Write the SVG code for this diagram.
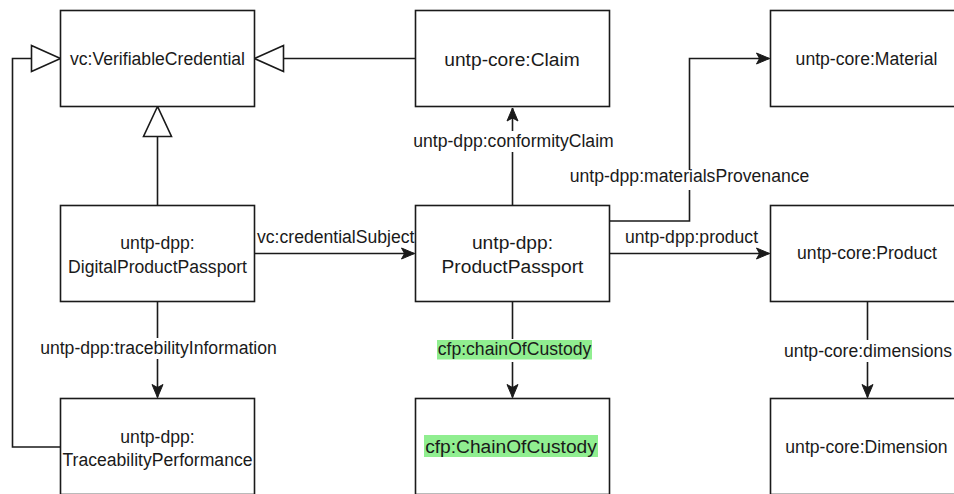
<svg xmlns="http://www.w3.org/2000/svg" width="954" height="494" viewBox="0 0 954 494">
<style>
.box{fill:#fff;stroke:#1a1a1a;stroke-width:1.6}
.ln{fill:none;stroke:#1a1a1a;stroke-width:1.6}
.tri{fill:#fff;stroke:#1a1a1a;stroke-width:1.6}
text{font-family:"Liberation Sans",Arial,Helvetica,sans-serif;fill:#1a1a1a}
.s{font-size:17.6px}
.b{font-size:19.2px}
.c{text-anchor:middle}
.bg{fill:#fff}
.hl{fill:#90ee90}
</style>
<defs>
<marker id="arr" markerUnits="userSpaceOnUse" viewBox="-14 -7 15 14" refX="0" refY="0" markerWidth="15" markerHeight="14" orient="auto">
<path d="M0,0 L-13,-5.5 L-10,0 L-13,5.5 Z" fill="#1a1a1a" stroke="#1a1a1a" stroke-width="1"/>
</marker>
</defs>

<g id="connectors">
<!-- Claim -> VC (generalization) -->
<path class="ln" d="M415.5,58.5 H283.5"/>
<polygon class="tri" points="254.5,58.5 283.5,45.5 283.5,71.5"/>
<!-- DPP -> VC (generalization) -->
<path class="ln" d="M157.5,205.5 V136.5"/>
<polygon class="tri" points="157.5,106.5 143.5,136.5 171.5,136.5"/>
<!-- TP -> VC (generalization) -->
<path class="ln" d="M60.5,447 H12.5 V58.5 H31.5"/>
<polygon class="tri" points="60.5,58.5 31.5,45.5 31.5,71.5"/>
<!-- DPP -> PP -->
<path class="ln" d="M254.5,253.5 H414.5" marker-end="url(#arr)"/>
<text class="s" x="257" y="243">vc:credentialSubject</text>
<!-- PP -> Product -->
<path class="ln" d="M609.5,253.5 H769.5" marker-end="url(#arr)"/>
<text class="s" x="625" y="243">untp-dpp:product</text>
<!-- PP -> Claim -->
<path class="ln" d="M512.5,205.5 V108" marker-end="url(#arr)"/>
<rect class="bg" x="413" y="131" width="201" height="21"/>
<text class="s c" x="513.5" y="147">untp-dpp:conformityClaim</text>
<!-- PP -> Material -->
<path class="ln" d="M609.5,221 H689.5 V58.5 H769.5" marker-end="url(#arr)"/>
<rect class="bg" x="568" y="170" width="242" height="20"/>
<text class="s c" x="689.5" y="182">untp-dpp:materialsProvenance</text>
<!-- DPP -> TP -->
<path class="ln" d="M157.5,302 V397.5" marker-end="url(#arr)"/>
<rect class="bg" x="38" y="338" width="240" height="21"/>
<text class="s c" x="158.5" y="354">untp-dpp:tracebilityInformation</text>
<!-- PP -> CoC -->
<path class="ln" d="M512.5,302 V397.5" marker-end="url(#arr)"/>
<rect class="bg" x="436" y="339" width="157" height="23"/>
<rect class="hl" x="437" y="340" width="155" height="19.5"/>
<text class="s c" x="514.5" y="355">cfp:chainOfCustody</text>
<!-- Product -> Dimension -->
<path class="ln" d="M867.5,302 V397.5" marker-end="url(#arr)"/>
<rect class="bg" x="783" y="340" width="171" height="22"/>
<text class="s c" x="868" y="357">untp-core:dimensions</text>
</g>

<g id="vc">
<rect class="box" x="60.5" y="10.5" width="194" height="96"/>
<text class="s c" x="157.5" y="65">vc:VerifiableCredential</text>
</g>
<g id="claim">
<rect class="box" x="415.5" y="10.5" width="194" height="96"/>
<text class="b c" x="512" y="65.5">untp-core:Claim</text>
</g>
<g id="material">
<rect class="box" x="770.5" y="10.5" width="194" height="96"/>
<text class="s c" x="866.5" y="65">untp-core:Material</text>
</g>
<g id="dpp">
<rect class="box" x="60.5" y="205.5" width="194" height="96"/>
<text class="s c" x="157.5" y="249">untp-dpp:</text>
<text class="s c" x="157.5" y="272.5">DigitalProductPassport</text>
</g>
<g id="pp">
<rect class="box" x="415.5" y="205.5" width="194" height="96"/>
<text class="b c" x="512.5" y="249">untp-dpp:</text>
<text class="b c" x="512.5" y="273">ProductPassport</text>
</g>
<g id="product">
<rect class="box" x="770.5" y="205.5" width="194" height="96"/>
<text class="s c" x="867" y="259">untp-core:Product</text>
</g>
<g id="tp">
<rect class="box" x="60.5" y="398.5" width="194" height="96"/>
<text class="s c" x="157.5" y="442.5">untp-dpp:</text>
<text class="s c" x="157.5" y="466">TraceabilityPerformance</text>
</g>
<g id="coc">
<rect class="box" x="415.5" y="398.5" width="194" height="96"/>
<rect class="hl" x="424" y="435" width="174" height="22"/>
<text class="b c" x="511" y="452.5">cfp:ChainOfCustody</text>
</g>
<g id="dimension">
<rect class="box" x="770.5" y="398.5" width="194" height="96"/>
<text class="s c" x="866.5" y="453">untp-core:Dimension</text>
</g>
</svg>
